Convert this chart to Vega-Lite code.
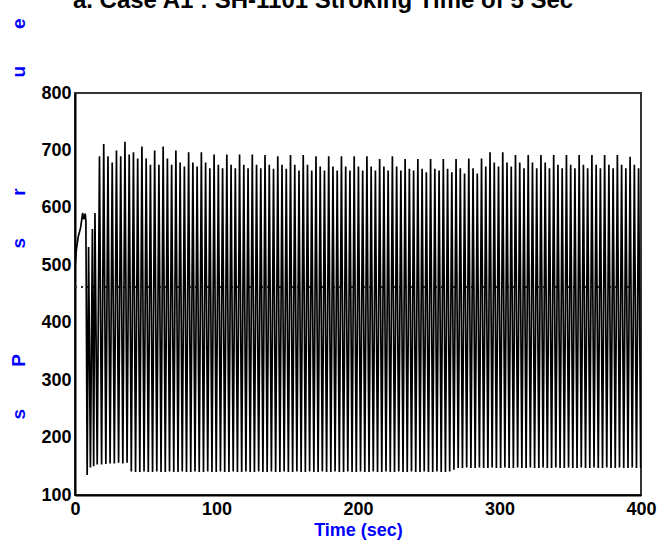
{
  "$schema": "https://vega.github.io/schema/vega-lite/v6.json",
  "width": 566,
  "height": 402,
  "autosize": {"type": "none"},
  "padding": {"left": 75, "top": 93, "right": 18, "bottom": 48},
  "background": "white",
  "title": {
    "text": "a. Case A1 : SH-1101  Stroking Time of 5 Sec",
    "font": "Liberation Sans",
    "fontSize": 24,
    "fontWeight": "bold",
    "color": "black",
    "anchor": "middle",
    "frame": "group",
    "baseline": "alphabetic",
    "offset": -14,
    "dx": -35
  },
  "config": {
    "font": "Liberation Sans",
    "view": {"stroke": "#333333", "strokeWidth": 2}
  },
  "data": {
    "values": [
      {"t": 0, "p": 495}, {"t": 1.0, "p": 528}, {"t": 2.3, "p": 550}, {"t": 4.0, "p": 566},
      {"t": 5.4, "p": 591}, {"t": 6.3, "p": 580}, {"t": 7.2, "p": 590}, {"t": 7.7, "p": 578},
      {"t": 8.6, "p": 135}, {"t": 9.6, "p": 532}, {"t": 10.9, "p": 148}, {"t": 12.3, "p": 563},
      {"t": 13.2, "p": 150}, {"t": 14.1, "p": 591}, {"t": 15.7, "p": 153},
      {"t": 17.3, "p": 690}, {"t": 18.8, "p": 153},
      {"t": 20.3, "p": 711}, {"t": 21.8, "p": 154},
      {"t": 23.3, "p": 690}, {"t": 24.8, "p": 155},
      {"t": 26.3, "p": 679}, {"t": 27.8, "p": 155},
      {"t": 29.3, "p": 700}, {"t": 30.8, "p": 156},
      {"t": 32.3, "p": 690}, {"t": 33.8, "p": 155},
      {"t": 35.3, "p": 715}, {"t": 36.8, "p": 156},
      {"t": 38.3, "p": 693}, {"t": 39.8, "p": 141},
      {"t": 41.3, "p": 697}, {"t": 42.8, "p": 140},
      {"t": 44.3, "p": 686}, {"t": 45.8, "p": 140},
      {"t": 47.3, "p": 707}, {"t": 48.8, "p": 141},
      {"t": 50.3, "p": 686}, {"t": 51.8, "p": 140},
      {"t": 53.3, "p": 675}, {"t": 54.8, "p": 140},
      {"t": 56.3, "p": 700}, {"t": 57.8, "p": 141},
      {"t": 59.3, "p": 675}, {"t": 60.8, "p": 140},
      {"t": 62.3, "p": 707}, {"t": 63.8, "p": 140},
      {"t": 65.3, "p": 686}, {"t": 66.8, "p": 141},
      {"t": 68.3, "p": 675}, {"t": 69.8, "p": 140},
      {"t": 71.3, "p": 700}, {"t": 72.8, "p": 140},
      {"t": 74.3, "p": 679}, {"t": 75.8, "p": 141},
      {"t": 77.3, "p": 672}, {"t": 78.8, "p": 140},
      {"t": 80.3, "p": 697}, {"t": 81.8, "p": 140},
      {"t": 83.3, "p": 679}, {"t": 84.8, "p": 141},
      {"t": 86.3, "p": 672}, {"t": 87.8, "p": 140},
      {"t": 89.3, "p": 697}, {"t": 90.8, "p": 140},
      {"t": 92.3, "p": 679}, {"t": 93.8, "p": 141},
      {"t": 95.3, "p": 669}, {"t": 96.8, "p": 140},
      {"t": 98.3, "p": 693}, {"t": 99.8, "p": 140},
      {"t": 101.3, "p": 675}, {"t": 102.8, "p": 141},
      {"t": 104.3, "p": 669}, {"t": 105.8, "p": 140},
      {"t": 107.3, "p": 693}, {"t": 108.8, "p": 140},
      {"t": 110.3, "p": 675}, {"t": 111.8, "p": 141},
      {"t": 113.3, "p": 669}, {"t": 114.8, "p": 140},
      {"t": 116.3, "p": 693}, {"t": 117.8, "p": 140},
      {"t": 119.3, "p": 675}, {"t": 120.8, "p": 141},
      {"t": 122.3, "p": 669}, {"t": 123.8, "p": 140},
      {"t": 125.3, "p": 693}, {"t": 126.8, "p": 140},
      {"t": 128.3, "p": 675}, {"t": 129.8, "p": 141},
      {"t": 131.3, "p": 669}, {"t": 132.8, "p": 140},
      {"t": 134.3, "p": 692}, {"t": 135.8, "p": 140},
      {"t": 137.3, "p": 675}, {"t": 138.8, "p": 141},
      {"t": 140.3, "p": 668}, {"t": 141.8, "p": 140},
      {"t": 143.3, "p": 690}, {"t": 144.8, "p": 140},
      {"t": 146.3, "p": 675}, {"t": 147.8, "p": 141},
      {"t": 149.3, "p": 668}, {"t": 150.8, "p": 140},
      {"t": 152.3, "p": 692}, {"t": 153.8, "p": 140},
      {"t": 155.3, "p": 675}, {"t": 156.8, "p": 141},
      {"t": 158.3, "p": 665}, {"t": 159.8, "p": 140},
      {"t": 161.3, "p": 692}, {"t": 162.8, "p": 140},
      {"t": 164.3, "p": 675}, {"t": 165.8, "p": 141},
      {"t": 167.3, "p": 665}, {"t": 168.8, "p": 140},
      {"t": 170.3, "p": 690}, {"t": 171.8, "p": 140},
      {"t": 173.3, "p": 672}, {"t": 174.8, "p": 141},
      {"t": 176.3, "p": 665}, {"t": 177.8, "p": 140},
      {"t": 179.3, "p": 690}, {"t": 180.8, "p": 140},
      {"t": 182.3, "p": 672}, {"t": 183.8, "p": 141},
      {"t": 185.3, "p": 665}, {"t": 186.8, "p": 140},
      {"t": 188.3, "p": 690}, {"t": 189.8, "p": 140},
      {"t": 191.3, "p": 672}, {"t": 192.8, "p": 141},
      {"t": 194.3, "p": 665}, {"t": 195.8, "p": 140},
      {"t": 197.3, "p": 690}, {"t": 198.8, "p": 140},
      {"t": 200.3, "p": 672}, {"t": 201.8, "p": 141},
      {"t": 203.3, "p": 665}, {"t": 204.8, "p": 140},
      {"t": 206.3, "p": 690}, {"t": 207.8, "p": 140},
      {"t": 209.3, "p": 672}, {"t": 210.8, "p": 141},
      {"t": 212.3, "p": 665}, {"t": 213.8, "p": 140},
      {"t": 215.3, "p": 685}, {"t": 216.8, "p": 140},
      {"t": 218.3, "p": 672}, {"t": 219.8, "p": 141},
      {"t": 221.3, "p": 665}, {"t": 222.8, "p": 140},
      {"t": 224.3, "p": 690}, {"t": 225.8, "p": 140},
      {"t": 227.3, "p": 672}, {"t": 228.8, "p": 141},
      {"t": 230.3, "p": 665}, {"t": 231.8, "p": 140},
      {"t": 233.3, "p": 685}, {"t": 234.8, "p": 140},
      {"t": 236.3, "p": 668}, {"t": 237.8, "p": 141},
      {"t": 239.3, "p": 665}, {"t": 240.8, "p": 140},
      {"t": 242.3, "p": 685}, {"t": 243.8, "p": 140},
      {"t": 245.3, "p": 668}, {"t": 246.8, "p": 141},
      {"t": 248.3, "p": 662}, {"t": 249.8, "p": 140},
      {"t": 251.3, "p": 685}, {"t": 252.8, "p": 140},
      {"t": 254.3, "p": 668}, {"t": 255.8, "p": 141},
      {"t": 257.3, "p": 665}, {"t": 258.8, "p": 140},
      {"t": 260.3, "p": 685}, {"t": 261.8, "p": 140},
      {"t": 263.3, "p": 668}, {"t": 264.8, "p": 141},
      {"t": 266.3, "p": 662}, {"t": 267.8, "p": 144},
      {"t": 269.3, "p": 685}, {"t": 270.8, "p": 147},
      {"t": 272.3, "p": 669}, {"t": 273.8, "p": 147},
      {"t": 275.3, "p": 660}, {"t": 276.8, "p": 148},
      {"t": 278.3, "p": 686}, {"t": 279.8, "p": 147},
      {"t": 281.3, "p": 669}, {"t": 282.8, "p": 147},
      {"t": 284.3, "p": 660}, {"t": 285.8, "p": 148},
      {"t": 287.3, "p": 686}, {"t": 288.8, "p": 147},
      {"t": 290.3, "p": 672}, {"t": 291.8, "p": 147},
      {"t": 293.3, "p": 697}, {"t": 294.8, "p": 148},
      {"t": 296.3, "p": 679}, {"t": 297.8, "p": 147},
      {"t": 299.3, "p": 672}, {"t": 300.8, "p": 147},
      {"t": 302.3, "p": 697}, {"t": 303.8, "p": 148},
      {"t": 305.3, "p": 679}, {"t": 306.8, "p": 147},
      {"t": 308.3, "p": 672}, {"t": 309.8, "p": 147},
      {"t": 311.3, "p": 692}, {"t": 312.8, "p": 148},
      {"t": 314.3, "p": 679}, {"t": 315.8, "p": 147},
      {"t": 317.3, "p": 669}, {"t": 318.8, "p": 147},
      {"t": 320.3, "p": 692}, {"t": 321.8, "p": 148},
      {"t": 323.3, "p": 679}, {"t": 324.8, "p": 147},
      {"t": 326.3, "p": 669}, {"t": 327.8, "p": 147},
      {"t": 329.3, "p": 692}, {"t": 330.8, "p": 148},
      {"t": 332.3, "p": 679}, {"t": 333.8, "p": 147},
      {"t": 335.3, "p": 669}, {"t": 336.8, "p": 147},
      {"t": 338.3, "p": 692}, {"t": 339.8, "p": 148},
      {"t": 341.3, "p": 675}, {"t": 342.8, "p": 147},
      {"t": 344.3, "p": 669}, {"t": 345.8, "p": 147},
      {"t": 347.3, "p": 692}, {"t": 348.8, "p": 148},
      {"t": 350.3, "p": 675}, {"t": 351.8, "p": 147},
      {"t": 353.3, "p": 669}, {"t": 354.8, "p": 147},
      {"t": 356.3, "p": 692}, {"t": 357.8, "p": 148},
      {"t": 359.3, "p": 675}, {"t": 360.8, "p": 147},
      {"t": 362.3, "p": 669}, {"t": 363.8, "p": 147},
      {"t": 365.3, "p": 692}, {"t": 366.8, "p": 148},
      {"t": 368.3, "p": 675}, {"t": 369.8, "p": 147},
      {"t": 371.3, "p": 669}, {"t": 372.8, "p": 147},
      {"t": 374.3, "p": 692}, {"t": 375.8, "p": 148},
      {"t": 377.3, "p": 675}, {"t": 378.8, "p": 147},
      {"t": 380.3, "p": 669}, {"t": 381.8, "p": 147},
      {"t": 383.3, "p": 692}, {"t": 384.8, "p": 148},
      {"t": 386.3, "p": 675}, {"t": 387.8, "p": 147},
      {"t": 389.3, "p": 669}, {"t": 390.8, "p": 147},
      {"t": 392.3, "p": 689}, {"t": 393.8, "p": 148},
      {"t": 395.3, "p": 675}, {"t": 396.8, "p": 147},
      {"t": 398.3, "p": 669}, {"t": 399.8, "p": 147}
    ]
  },
  "layer": [
    {
      "mark": {"type": "rule", "color": "#333333", "strokeWidth": 1, "strokeDash": [2, 4]},
      "encoding": {"y": {"datum": 462, "type": "quantitative"}}
    },
    {
      "mark": {"type": "line", "color": "black", "strokeWidth": 1.7, "clip": true, "interpolate": "linear"},
      "encoding": {
        "x": {
          "field": "t",
          "type": "quantitative",
          "scale": {"domain": [0, 400], "nice": false, "zero": false},
          "axis": {
            "title": "Time (sec)",
            "values": [0, 50, 100, 150, 200, 250, 300, 350, 400],
            "labelExpr": "datum.value % 100 === 0 ? datum.label : ''",
            "labelFont": "Liberation Sans",
            "labelFontSize": 18,
            "labelFontWeight": "bold",
            "labelColor": "black",
            "labelPadding": 5,
            "labelFlush": false,
            "labelOverlap": false,
            "grid": false,
            "domainColor": "black",
            "domainWidth": 2,
            "tickColor": "black",
            "tickWidth": 2,
            "tickSize": 0,
            "encode": {"ticks": {"update": {"y2": {"signal": "datum.value % 100 === 0 ? -9 : -5"}}}},
            "titleFont": "Liberation Sans",
            "titleFontSize": 18,
            "titleFontWeight": "bold",
            "titleColor": "#0000FF",
            "titlePadding": 3
          }
        },
        "y": {
          "field": "p",
          "type": "quantitative",
          "scale": {"domain": [100, 800], "nice": false, "zero": false},
          "axis": {
            "title": "s\u00a0\u00a0\u00a0\u00a0\u00a0\u00a0\u00a0\u00a0P\u00a0\u00a0\u00a0\u00a0\u00a0\u00a0\u00a0\u00a0\u00a0\u00a0\u00a0\u00a0\u00a0\u00a0\u00a0\u00a0\u00a0\u00a0\u00a0\u00a0s\u00a0\u00a0\u00a0\u00a0\u00a0\u00a0\u00a0\u00a0r\u00a0\u00a0\u00a0\u00a0\u00a0\u00a0\u00a0\u00a0\u00a0\u00a0\u00a0\u00a0\u00a0\u00a0\u00a0\u00a0\u00a0\u00a0\u00a0\u00a0\u00a0u\u00a0\u00a0\u00a0\u00a0\u00a0\u00a0\u00a0e",
            "values": [100, 150, 200, 250, 300, 350, 400, 450, 500, 550, 600, 650, 700, 750, 800],
            "labelExpr": "datum.value % 100 === 0 ? datum.label : ''",
            "labelFont": "Liberation Sans",
            "labelFontSize": 18,
            "labelFontWeight": "bold",
            "labelColor": "black",
            "labelPadding": 4,
            "labelFlush": false,
            "labelOverlap": false,
            "grid": false,
            "domainColor": "black",
            "domainWidth": 2,
            "tickColor": "black",
            "tickWidth": 2,
            "tickSize": 0,
            "encode": {"ticks": {"update": {"x2": {"signal": "datum.value % 100 === 0 ? 9 : 5"}}}},
            "titleFont": "Liberation Sans",
            "titleFontSize": 19,
            "titleFontWeight": "bold",
            "titleColor": "#0000FF",
            "titleAngle": -90,
            "titleAlign": "center",
            "titleBaseline": "middle",
            "titleX": -57,
            "titleY": 125.5
          }
        }
      }
    }
  ]
}
